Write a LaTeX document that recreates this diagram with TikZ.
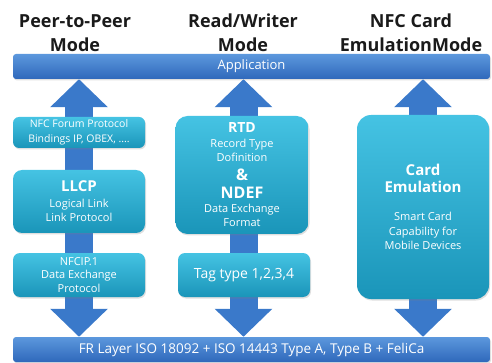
\documentclass[tikz,border=0pt]{standalone}
\usepackage{fontspec}
\setmainfont{Open Sans}
\usetikzlibrary{arrows.meta,shadows}
\definecolor{boxtop}{HTML}{45C3E3}
\definecolor{boxbot}{HTML}{1A95B9}
\definecolor{bartop}{HTML}{5C98DD}
\definecolor{barbot}{HTML}{2F68BB}
\definecolor{arrowc}{HTML}{3A79CA}
\definecolor{titlec}{HTML}{1A1A1A}
\begin{document}
\begin{tikzpicture}[x=1pt,y=-1pt,
  bar/.style={rectangle, rounded corners=3pt, top color=bartop, bottom color=barbot,
    text=white, minimum width=477pt, minimum height=25pt, inner sep=0pt,
    font=\fontsize{13}{15}\selectfont,
    drop shadow={opacity=0.25,shadow xshift=1pt,shadow yshift=-1.5pt}},
  layerbox/.style={rectangle, rounded corners=9pt, top color=boxtop, bottom color=boxbot,
    text=white, align=center, inner sep=0pt, minimum width=132pt,
    font=\fontsize{11}{14.5}\selectfont,
    drop shadow={opacity=0.25,shadow xshift=1pt,shadow yshift=-1.5pt}},
  title/.style={font=\fontsize{18}{24}\selectfont\bfseries, text=titlec, align=center},
  updown/.style={line width=28pt, draw=arrowc, fill=arrowc,
    {Triangle[width=56pt,length=28pt]}-{Triangle[width=56pt,length=28pt]}}]
\useasboundingbox (0,0) rectangle (492,363);

\node[title] (t1) at (75,33) {Peer-to-Peer\\Mode};
\node[title] (t2) at (243,33) {Read/Writer\\Mode};
\node[title] (t3) at (411,33) {NFC Card\\EmulationMode};

\node[bar] (app) at (251.5,66.5) {Application};
\node[bar, font=\fontsize{13.5}{15}\selectfont] (fr) at (251.5,349.5)
  {FR Layer ISO 18092 + ISO 14443 Type A, Type B + FeliCa};

\coordinate (c1) at (79,0);
\coordinate (c2) at (243.5,0);
\coordinate (c3) at (423,0);
\draw[updown] (app.south -| c1) -- (fr.north -| c1);
\draw[updown] (app.south -| c2) -- (fr.north -| c2);
\draw[updown] (app.south -| c3) -- (fr.north -| c3);

\node[layerbox, rounded corners=6pt, minimum height=31pt, font=\fontsize{10.5}{15}\selectfont]
  (bind) at (79,132.5) {NFC Forum Protocol\\Bindings IP, OBEX, ....};
\node[layerbox, minimum height=63pt] (llcp) at (79,201.5)
  {{\fontsize{15}{17}\selectfont\bfseries LLCP}\\[1pt]Logical Link\\Link Protocol};
\node[layerbox, rounded corners=7pt, minimum height=44pt, font=\fontsize{11}{13.3}\selectfont]
  (nfcip) at (79,275) {NFCIP.1\\Data Exchange\\Protocol};

\node[layerbox, rounded corners=12pt, minimum width=133pt, minimum height=118pt]
  (rtd) at (242,175)
  {{\fontsize{14}{16}\selectfont\bfseries RTD}\\Record Type\\Dofinition\\[4pt]
   {\fontsize{16}{18}\selectfont\bfseries \&}\\[4pt]{\fontsize{16}{18}\selectfont\bfseries NDEF}\\[-1pt]
   Data Exchange\\Format};
\node[layerbox, rounded corners=7pt, minimum width=132pt, minimum height=44pt,
  font=\fontsize{14}{16}\selectfont] (tag) at (244,275) {Tag type 1,2,3,4};

\node[layerbox, rounded corners=14pt, minimum width=132pt, minimum height=184pt]
  (card) at (423,207)
  {{\fontsize{15}{18}\selectfont\bfseries Card}\\[2pt]{\fontsize{15}{18}\selectfont\bfseries Emulation}\\[14pt]
   Smart Card\\Capability for\\Mobile Devices};
\end{tikzpicture}
\end{document}
